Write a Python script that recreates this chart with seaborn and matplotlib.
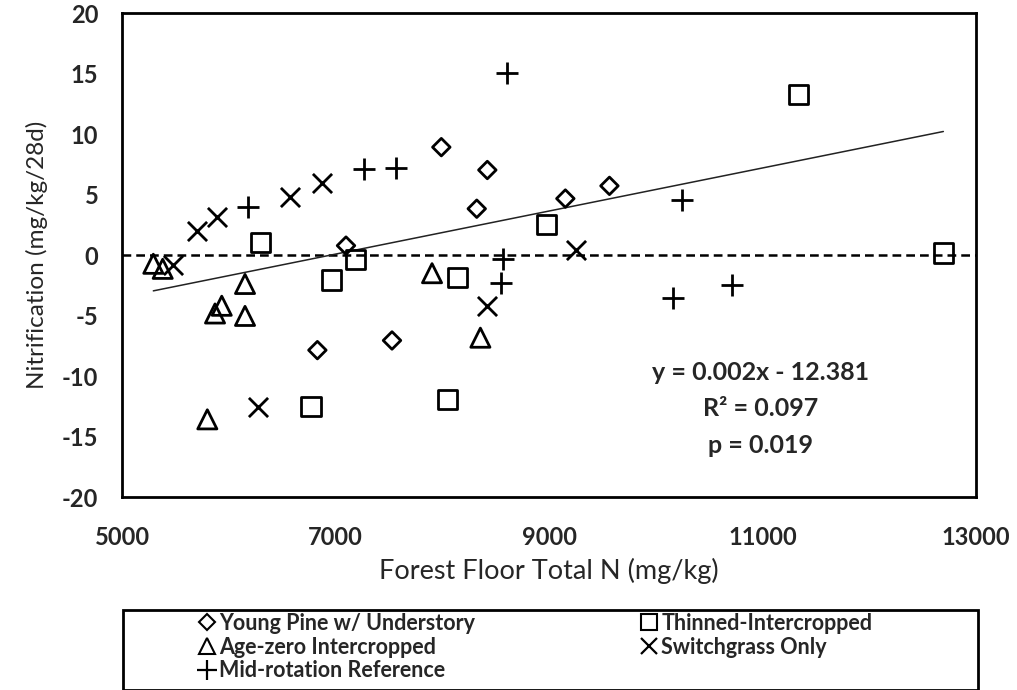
import numpy as np
import pandas as pd
import matplotlib
matplotlib.use("Agg")
import matplotlib.pyplot as plt
import seaborn as sns
from matplotlib.lines import Line2D
from matplotlib.patches import Rectangle

# ---- data ----
young_pine_x = [7098, 7991, 8422, 8323, 9153, 9566, 6830, 7529]
young_pine_y = [0.78, 8.92, 7.03, 3.83, 4.67, 5.72, -7.86, -7.06]

thinned_x = [6296, 7186, 8978, 11335, 12694, 6964, 6770, 8144, 8051]
thinned_y = [1.06, -0.36, 2.56, 13.3, 0.17, -2.06, -12.53, -1.83, -11.97]

agezero_x = [5293, 5381, 6152, 5934, 5871, 6152, 5799, 7904, 8357]
agezero_y = [-0.72, -1.14, -2.39, -4.19, -4.83, -5.03, -13.58, -1.5, -6.83]

switch_x = [5700, 5887, 6577, 6874, 9250, 5475, 6274, 8422]
switch_y = [2.0, 3.17, 4.78, 5.94, 0.44, -0.86, -12.53, -4.19]

midrot_x = [6177, 7264, 7564, 8607, 10246, 8566, 8547, 10165, 10714]
midrot_y = [3.94, 7.14, 7.22, 15.03, 4.53, -0.3, -2.33, -3.58, -2.5]

trend_slope = 0.00178
trend_intercept = -12.381

x_ticks = [5000, 7000, 9000, 11000, 13000]
y_ticks = [-20, -15, -10, -5, 0, 5, 10, 15, 20]

labels = ["Young Pine w/ Understory", "Thinned-Intercropped",
          "Age-zero Intercropped", "Switchgrass Only", "Mid-rotation Reference"]

annotation = "y = 0.002x - 12.381\nR² = 0.097\np = 0.019"

# ---- plot ----
sns.set_style("white")
plt.rcParams['font.family'] = ['Lato', 'DejaVu Sans']

fig = plt.figure(figsize=(10.17, 6.90), dpi=100)
ax = fig.add_axes([0.120, 0.2797, 0.8397, 0.7013])

groups = [
    (young_pine_x, young_pine_y, "D", True, 80),
    (thinned_x, thinned_y, "s", True, 190),
    (agezero_x, agezero_y, "^", True, 190),
    (switch_x, switch_y, "x", False, 190),
    (midrot_x, midrot_y, "+", False, 260),
]
for gx, gy, mk, filled, sz in groups:
    df = pd.DataFrame({"x": gx, "y": gy})
    if filled:
        sns.scatterplot(data=df, x="x", y="y", marker=mk, s=sz, ax=ax,
                        facecolor="none", edgecolor="black", linewidth=2, zorder=3)
    else:
        sns.scatterplot(data=df, x="x", y="y", marker=mk, s=sz, ax=ax,
                        color="black", linewidth=2, zorder=3)

# zero reference line
ax.axhline(0, color="black", lw=1.8, ls=(0, (3.5, 2)), zorder=2)

# trend line
all_x = np.array(young_pine_x + thinned_x + agezero_x + switch_x + midrot_x)
tx = np.array([all_x.min(), all_x.max()])
sns.lineplot(x=tx, y=trend_slope * tx + trend_intercept, ax=ax,
             color="#222222", lw=1.1, zorder=2)

ax.set_xlim(5000, 13000)
ax.set_ylim(-20, 20)
ax.set_xticks(x_ticks)
ax.set_yticks(y_ticks)
ax.set_xticklabels([str(v) for v in x_ticks], fontsize=17, fontweight="bold")
ax.set_yticklabels([str(v) for v in y_ticks], fontsize=17, fontweight="bold")
ax.tick_params(axis="x", length=0, pad=21)
ax.tick_params(axis="y", length=0, pad=17)
for sp in ax.spines.values():
    sp.set_visible(True)
    sp.set_color("black")
    sp.set_linewidth(2)

ax.set_xlabel("Forest Floor Total N (mg/kg)", fontsize=19.5, labelpad=6)
ax.set_ylabel("Nitrification (mg/kg/28d)", fontsize=17.5, labelpad=10)

ax.text(0.748, 0.182, annotation, transform=ax.transAxes, ha="center", va="center",
        fontsize=18, fontweight="bold", linespacing=1.7)

# legend frame
W, H = 1017.0, 690.0
fig.patches.append(Rectangle((123 / W, 0.0), (978 - 123) / W, (690 - 610) / H,
                             transform=fig.transFigure, fill=False,
                             edgecolor="black", linewidth=2))

def h(mk, filled, ms):
    if filled:
        return Line2D([], [], marker=mk, ls="none", markerfacecolor="none",
                      markeredgecolor="black", markersize=ms, markeredgewidth=1.5)
    return Line2D([], [], marker=mk, ls="none", color="black",
                  markersize=ms, markeredgewidth=1.6)

leg_kw = dict(loc="upper left", frameon=False, fontsize=15.5,
              handletextpad=0.25, handlelength=0.7, labelspacing=0.12,
              borderpad=0, borderaxespad=0)
leg1 = fig.legend([h("D", True, 8), h("^", True, 11), h("+", False, 14)],
                  [labels[0], labels[2], labels[4]],
                  bbox_to_anchor=(199 / W, 1 - 613 / H), **leg_kw)
leg2 = fig.legend([h("s", True, 12), h("x", False, 11)],
                  [labels[1], labels[3]],
                  bbox_to_anchor=(641 / W, 1 - 613 / H), **leg_kw)
for lg in (leg1, leg2):
    for t in lg.get_texts():
        t.set_fontweight("bold")

fig.savefig("out.png", dpi=100)
